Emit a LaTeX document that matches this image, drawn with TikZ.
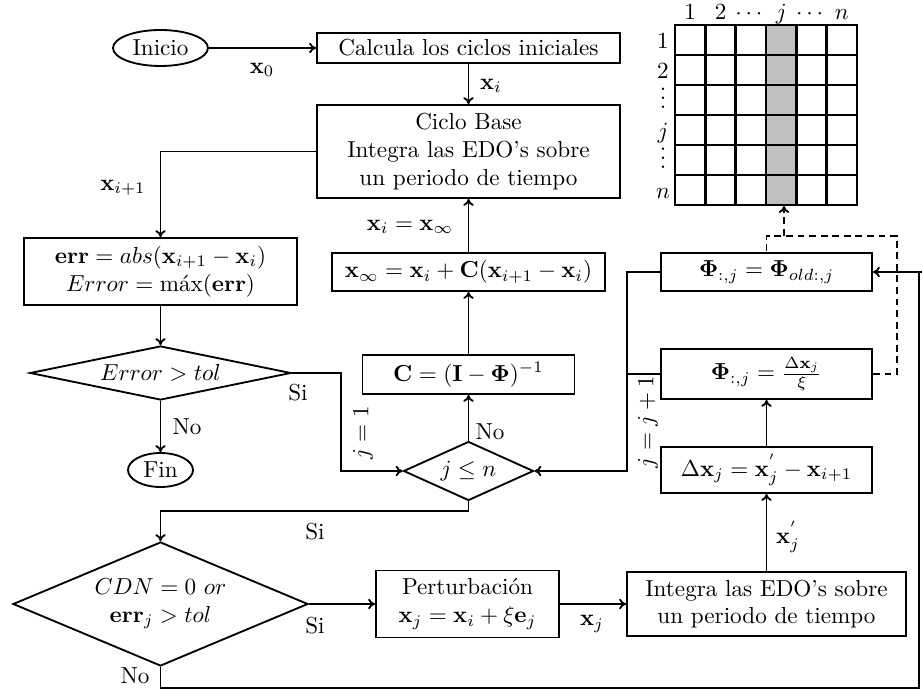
\documentclass[tikz,border=0pt]{standalone}
\usepackage{amsmath,amssymb}
\usetikzlibrary{shapes.geometric,arrows.meta}
\begin{document}
\begin{tikzpicture}[x=0.432pt,y=-0.432pt,
  box/.style 2 args={draw,thick,rectangle,minimum width=#1*0.432pt,minimum height=#2*0.432pt,align=center,inner sep=2pt},
  term/.style 2 args={draw,thick,ellipse,minimum width=#1*0.432pt,minimum height=#2*0.432pt,inner sep=0pt},
  dec/.style n args={3}{draw,thick,diamond,aspect=#3,minimum width=#1*0.432pt,minimum height=#2*0.432pt,inner sep=0pt,align=center},
  conn/.style={thick,-{To[length=3pt,width=4.5pt]}},
  line/.style={thick},
  dashline/.style={thick,dash pattern=on 3pt off 2pt},
  lbl/.style={inner sep=0pt},
  cell/.style={line width=1.1pt}]
\useasboundingbox (0,0) rectangle (922,694);

% ---------- nodes ----------
\node[term={95}{36}] (inicio) at (160.5,48) {Inicio};
\node[box={303}{30}] (calc) at (468.5,48) {Calcula los ciclos iniciales};
\node[box={303}{93}] (ciclo) at (468.5,151.5) {Ciclo Base\\Integra las EDO's sobre\\un periodo de tiempo};
\node[box={273}{67}] (err) at (160.5,271.5) {$\mathbf{err} = abs(\mathbf{x}_{i+1}-\mathbf{x}_i)$\\$Error = \text{máx}(\mathbf{err})$};
\node[dec={261}{54}{4.8}] (errd) at (160.5,373) {$Error > tol$};
\node[term={65}{34}] (fin) at (160.5,470) {Fin};
\node[box={273}{38}] (xinf) at (468.5,272) {$\mathbf{x}_\infty = \mathbf{x}_i + \mathbf{C}(\mathbf{x}_{i+1}-\mathbf{x}_i)$};
\node[box={212}{39}] (cbox) at (468.5,374.5) {$\mathbf{C} = (\mathbf{I}-\boldsymbol{\Phi})^{-1}$};
\node[dec={130}{59}{2.2}] (jn) at (468.5,471) {$j \le n$};
\node[box={211}{38}] (phiold) at (766.5,272) {$\boldsymbol{\Phi}_{:,j} = \boldsymbol{\Phi}_{old:,j}$};
\node[box={211}{50}] (phi) at (766.5,374) {$\boldsymbol{\Phi}_{:,j} = \frac{\Delta\mathbf{x}_j}{\xi}$};
\node[box={211}{46}] (dx) at (766.5,470) {$\Delta\mathbf{x}_j = \mathbf{x}_j^{'} - \mathbf{x}_{i+1}$};
\node[dec={295}{124}{2.38}] (cdn) at (160.5,604) {$CDN = 0\ or$\\$\mathbf{err}_j > tol$};
\node[box={183}{67}] (pert) at (467.5,604) {Perturbación\\$\mathbf{x}_j = \mathbf{x}_i + \xi\mathbf{e}_j$};
\node[box={279}{64}] (integ) at (766.5,604) {Integra las EDO's sobre\\un periodo de tiempo};

% ---------- matrix ----------
\foreach \i in {0,...,5}{
  \foreach \k in {0,...,5}{
    \ifnum\i=3
      \draw[cell,fill=black!25] ({675+30.33*\i},{25+30*\k}) rectangle ++(30.33,30);
    \else
      \draw[cell,fill=white] ({675+30.33*\i},{25+30*\k}) rectangle ++(30.33,30);
    \fi
  }
}
\foreach \t [count=\c from 0] in {1,2,$\cdots$,$j$,$\cdots$,$n$}{
  \node[lbl,anchor=base] (col\c) at ({690.2+30.33*\c},20) {\t};
}
\node[lbl,anchor=base] (row0) at (663,49) {1};
\node[lbl,anchor=base] (row1) at (663,79) {2};
\node[lbl,anchor=base] (row2) at (663,109) {\smash{$\vdots$}};
\node[lbl,anchor=base] (row3) at (663,139) {$j$};
\node[lbl,anchor=base] (row4) at (663,169) {\smash{$\vdots$}};
\node[lbl,anchor=base] (row5) at (663,199) {$n$};
\coordinate (matb) at (784,206);

% ---------- helper coordinates ----------
\coordinate (c1) at (341,420);
\coordinate (c2) at (300,511);
\coordinate (c3) at (627,400);
\coordinate (br) at (919,688);
\coordinate (d1) at (897,236);
\coordinate (d2) at (784,236);

% ---------- connectors ----------
\draw[conn] (inicio.east) -- (calc.west);
\draw[conn] (calc.south) -- (ciclo.north);
\draw[conn] (ciclo.west) -| (err.north);
\draw[conn] (err.south) -- (errd.north);
\draw[conn] (errd.south) -- (fin.north);
\draw[conn] (errd.east) -| (c1) |- (jn.west);
\draw[conn] (jn.north) -- (cbox.south);
\draw[conn] (cbox.north) -- (xinf.south);
\draw[conn] (xinf.north) -- (ciclo.south);
\draw[conn] (jn.south) |- (c2) -| (cdn.north);
\draw[conn] (cdn.east) -- (pert.west);
\draw[conn] (pert.east) -- (integ.west);
\draw[conn] (integ.north) -- (dx.south);
\draw[conn] (dx.north) -- (phi.south);
\draw[conn] (phiold.west) -| (c3) |- (jn.east);
\draw[line] (phi.west) -- (phi.west -| c3);
\draw[conn] (cdn.south) |- (br) |- (phiold.east);
\draw[line] (br |- phiold.east) -- ++(10,0);
\draw[dashline] (phi.east) -| (d1) -| (phiold.north);
\draw[dashline,-{To[length=3pt,width=4.5pt]}] (d2) -- (matb);

% ---------- labels ----------
\node[lbl] (lx0) at (262,70) {$\mathbf{x}_0$};
\node[lbl] (lxi) at (491,86) {$\mathbf{x}_i$};
\node[lbl] (lxi1) at (123,188) {$\mathbf{x}_{i+1}$};
\node[lbl] (lxinf) at (410,227) {$\mathbf{x}_i = \mathbf{x}_\infty$};
\node[lbl] (lsi1) at (298,393) {Si};
\node[lbl] (lno1) at (187,427) {No};
\node[lbl,rotate=90] (lj1) at (363,433) {$j=1$};
\node[lbl] (lno2) at (490,432) {No};
\node[lbl,rotate=90] (ljj) at (648,422) {$j=j+1$};
\node[lbl] (lsi2) at (315,532) {Si};
\node[lbl] (lsi3) at (315,626) {Si};
\node[lbl] (lxj) at (592,624) {$\mathbf{x}_j$};
\node[lbl] (lxjp) at (788,537) {$\mathbf{x}_j^{'}$};
\node[lbl] (lno3) at (135,676) {No};
\end{tikzpicture}
\end{document}
